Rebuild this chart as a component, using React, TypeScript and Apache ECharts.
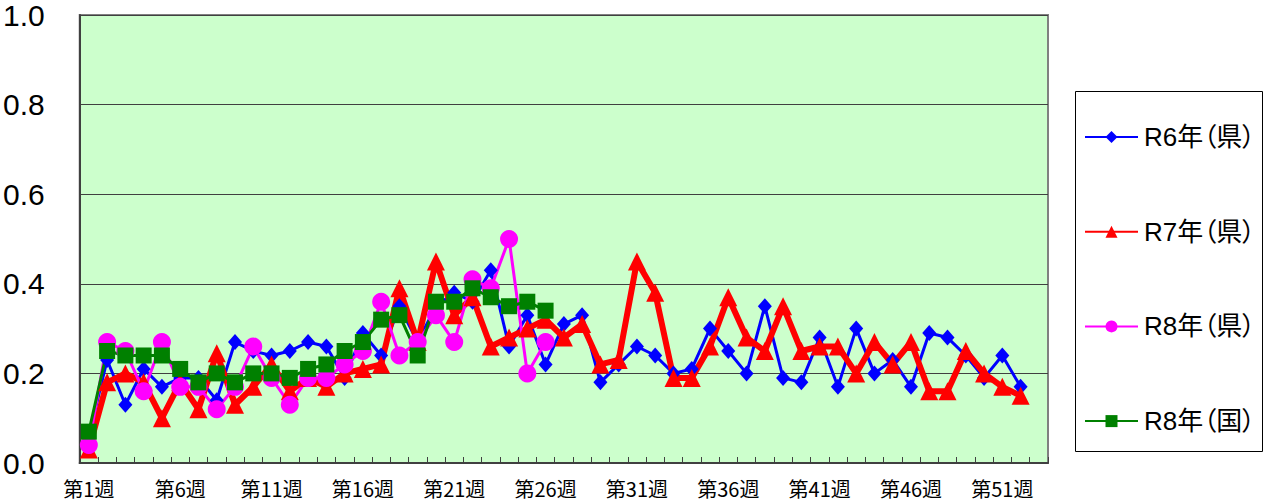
import React, { useEffect, useRef } from "react";
import * as echarts from "echarts";

const weeks: string[] = Array.from({ length: 53 }, (_, i) => `第${i + 1}週`);

const seriesNames = ["R6年（県）", "R7年（県）", "R8年（県）", "R8年（国）"];

const r6Pref: number[] = [
  0.06, 0.23, 0.13, 0.21, 0.17, 0.19, 0.19, 0.14, 0.27, 0.25,
  0.24, 0.25, 0.27, 0.26, 0.19, 0.29, 0.24, 0.35, 0.27, 0.35,
  0.38, 0.36, 0.43, 0.26, 0.33, 0.22, 0.31, 0.33, 0.18, 0.22,
  0.26, 0.24, 0.2, 0.21, 0.3, 0.25, 0.2, 0.35, 0.19, 0.18,
  0.28, 0.17, 0.3, 0.2, 0.23, 0.17, 0.29, 0.28, 0.24, 0.19,
  0.24, 0.17,
];

const r7Pref: number[] = [
  0.03, 0.18, 0.2, 0.18, 0.1, 0.18, 0.12, 0.245, 0.13, 0.17,
  0.22, 0.16, 0.19, 0.17, 0.2, 0.21, 0.22, 0.39, 0.27, 0.45,
  0.33, 0.37, 0.26, 0.28, 0.3, 0.32, 0.28, 0.31, 0.22, 0.23,
  0.45, 0.38, 0.19, 0.19, 0.26, 0.37, 0.28, 0.25, 0.35, 0.25,
  0.26, 0.26, 0.2, 0.27, 0.22, 0.27, 0.16, 0.16, 0.25, 0.2,
  0.17, 0.15,
];

const r8Pref: number[] = [
  0.04, 0.27, 0.25, 0.16, 0.27, 0.17, 0.17, 0.12, 0.17, 0.26,
  0.19, 0.13, 0.19, 0.19, 0.22, 0.25, 0.36, 0.24, 0.27, 0.33,
  0.27, 0.41, 0.39, 0.5, 0.2, 0.27,
];

const r8Nation: number[] = [
  0.07, 0.25, 0.24, 0.24, 0.24, 0.21, 0.18, 0.2, 0.18, 0.2,
  0.2, 0.19, 0.21, 0.22, 0.25, 0.27, 0.32, 0.33, 0.24, 0.36,
  0.36, 0.39, 0.37, 0.35, 0.36, 0.34,
];

const yTicks = [0, 0.2, 0.4, 0.6, 0.8, 1.0];

const JP = "'Liberation Sans', 'Noto Sans CJK JP', sans-serif";

export default function App() {
  const ref = useRef<HTMLDivElement>(null);

  useEffect(() => {
    if (!ref.current) return;
    const chart = echarts.init(ref.current, undefined, { renderer: "svg" });
    const mk = (
      name: string,
      data: number[],
      color: string,
      symbol: string,
      size: number | number[],
      width: number
    ) => ({
      name,
      type: "line",
      data,
      symbol,
      symbolSize: size,
      showAllSymbol: true,
      itemStyle: { color },
      lineStyle: { color, width },
      emphasis: { disabled: true },
    });
    chart.setOption({
      animation: false,
      backgroundColor: "#ffffff",
      grid: {
        left: 79,
        right: 217,
        top: 15,
        bottom: 41,
        show: true,
        backgroundColor: "#CCFFCC",
        borderColor: "#808080",
        borderWidth: 2,
      },
      graphic: [
        {
          type: "rect",
          shape: { x: 1075.5, y: 91.5, width: 187, height: 360 },
          style: { fill: "#ffffff", stroke: "#000000", lineWidth: 1 },
          z: -1,
        },
      ],
      legend: {
        orient: "vertical",
        left: 1084,
        top: 124,
        padding: 0,
        itemGap: 68.7,
        itemWidth: 53,
        itemHeight: 15,
        data: seriesNames,
        textStyle: {
          fontSize: 26,
          fontFamily: JP,
          color: "#000000",
          lineHeight: 22,
          padding: [0, 0, 0, 1],
        },
      },
      xAxis: {
        type: "category",
        data: weeks,
        boundaryGap: true,
        axisLine: { lineStyle: { color: "#404040", width: 2 } },
        axisTick: {
          show: true,
          inside: true,
          length: 6,
          interval: 0,
          lineStyle: { color: "#404040", width: 1 },
        },
        axisLabel: {
          interval: 4,
          margin: 15,
          fontSize: 20,
          fontFamily: "'Noto Sans CJK JP', sans-serif",
          color: "#000000",
        },
        splitLine: { show: false },
      },
      yAxis: {
        type: "value",
        min: yTicks[0],
        max: yTicks[yTicks.length - 1],
        interval: 0.2,
        axisLine: { show: true, lineStyle: { color: "#404040", width: 2 } },
        axisTick: {
          show: true,
          inside: true,
          length: 6,
          lineStyle: { color: "#404040" },
        },
        axisLabel: {
          margin: 35,
          fontSize: 30,
          fontFamily: "'Liberation Sans Narrow', 'Liberation Sans', sans-serif",
          color: "#000000",
          formatter: (v: number) => v.toFixed(1),
        },
        splitLine: { show: true, lineStyle: { color: "#404040", width: 1 } },
      },
      series: [
        mk(seriesNames[0], r6Pref, "#0000FF", "diamond", [14, 16], 3),
        mk(seriesNames[1], r7Pref, "#FF0000", "triangle", 18, 6),
        mk(seriesNames[2], r8Pref, "#FF00FF", "circle", 18, 3),
        mk(seriesNames[3], r8Nation, "#008000", "rect", 16, 3),
      ],
    });
    return () => chart.dispose();
  }, []);

  return (
    <>
      <style>{`#root text { font-feature-settings: "palt" !important; }`}</style>
      <div
        ref={ref}
        style={{ position: "fixed", left: 0, top: 0, width: 1265, height: 504 }}
      />
    </>
  );
}
